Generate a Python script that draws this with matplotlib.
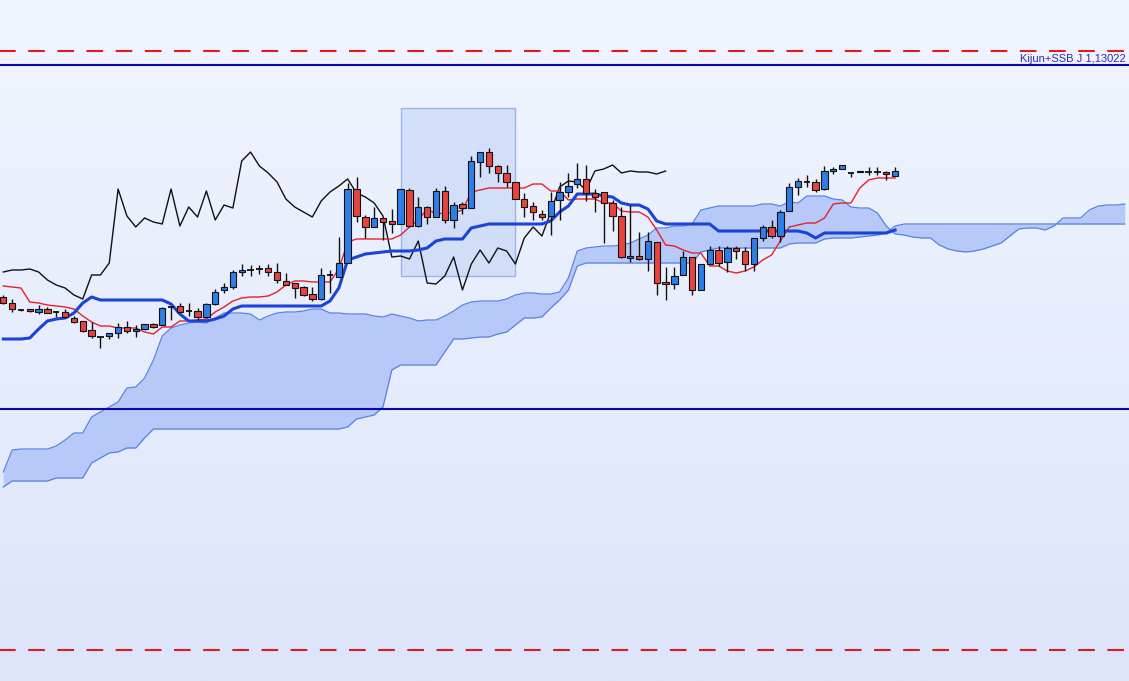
import numpy as np
import matplotlib
matplotlib.use("Agg")
import matplotlib.pyplot as plt
from matplotlib.patches import Rectangle
from matplotlib.transforms import blended_transform_factory

# ---- price data (one value per bar) ----
open_ = [1.11862, 1.11832, 1.11797, 1.11802, 1.11787, 1.11802, 1.11787, 1.11787, 1.11757, 1.11742,
         1.11697, 1.11662, 1.11667, 1.11682, 1.11712, 1.11692, 1.11702, 1.11727, 1.11722, 1.11812,
         1.11817, 1.11792, 1.11792, 1.11762, 1.11827, 1.11897, 1.11912, 1.11987, 1.11997, 1.12002,
         1.12007, 1.11987, 1.11942, 1.11932, 1.11912, 1.11877, 1.11852, 1.11972, 1.11962, 1.12032,
         1.12402, 1.12262, 1.12212, 1.12257, 1.12242, 1.12227, 1.12397, 1.12217, 1.12312, 1.12262,
         1.12392, 1.12247, 1.12327, 1.12307, 1.12537, 1.12587, 1.12517, 1.12482, 1.12437, 1.12352,
         1.12317, 1.12277, 1.12267, 1.12347, 1.12387, 1.12427, 1.12452, 1.12382, 1.12387, 1.12332,
         1.12267, 1.12057, 1.12067, 1.12052, 1.12137, 1.11937, 1.11927, 1.11972, 1.12062, 1.11897,
         1.12027, 1.12097, 1.12037, 1.12107, 1.12092, 1.12027, 1.12157, 1.12212, 1.12167, 1.12292,
         1.12412, 1.12437, 1.12437, 1.12402, 1.12492, 1.12502, 1.12482, 1.12487, 1.12487, 1.12487,
         1.12487, 1.12467]
high = [1.11872, 1.11852, 1.11802, 1.11802, 1.11822, 1.11812, 1.11792, 1.11802, 1.11767, 1.11742,
        1.11737, 1.11667, 1.11682, 1.11732, 1.11742, 1.11722, 1.11727, 1.11732, 1.11812, 1.11812,
        1.11832, 1.11832, 1.11807, 1.11832, 1.11902, 1.11932, 1.11997, 1.12027, 1.12022, 1.12022,
        1.12027, 1.12032, 1.11982, 1.11932, 1.11917, 1.11912, 1.12007, 1.11997, 1.12162, 1.12432,
        1.12462, 1.12272, 1.12312, 1.12257, 1.12302, 1.12402, 1.12407, 1.12362, 1.12317, 1.12407,
        1.12417, 1.12337, 1.12337, 1.12567, 1.12587, 1.12607, 1.12522, 1.12522, 1.12437, 1.12382,
        1.12337, 1.12297, 1.12387, 1.12437, 1.12482, 1.12532, 1.12522, 1.12402, 1.12387, 1.12347,
        1.12312, 1.12322, 1.12187, 1.12187, 1.12137, 1.12012, 1.12012, 1.12092, 1.12062, 1.12027,
        1.12117, 1.12117, 1.12117, 1.12117, 1.12112, 1.12157, 1.12222, 1.12247, 1.12297, 1.12432,
        1.12457, 1.12472, 1.12452, 1.12517, 1.12512, 1.12522, 1.12482, 1.12492, 1.12512, 1.12512,
        1.12492, 1.12512]
low = [1.11827, 1.11787, 1.11792, 1.11787, 1.11777, 1.11782, 1.11762, 1.11757, 1.11732, 1.11687,
       1.11657, 1.11607, 1.11652, 1.11657, 1.11682, 1.11662, 1.11697, 1.11707, 1.11722, 1.11747,
       1.11782, 1.11767, 1.11747, 1.11757, 1.11822, 1.11882, 1.11902, 1.11967, 1.11967, 1.11977,
       1.11967, 1.11932, 1.11922, 1.11857, 1.11867, 1.11842, 1.11847, 1.11882, 1.11962, 1.12032,
       1.12237, 1.12157, 1.12212, 1.12147, 1.12182, 1.12227, 1.12212, 1.12212, 1.12227, 1.12262,
       1.12232, 1.12207, 1.12277, 1.12307, 1.12462, 1.12482, 1.12437, 1.12412, 1.12352, 1.12262,
       1.12247, 1.12247, 1.12172, 1.12247, 1.12362, 1.12407, 1.12342, 1.12287, 1.12132, 1.12192,
       1.12057, 1.12037, 1.12047, 1.11992, 1.11872, 1.11847, 1.11902, 1.11972, 1.11872, 1.11897,
       1.12027, 1.12017, 1.11987, 1.12052, 1.11992, 1.11992, 1.12142, 1.12157, 1.12137, 1.12292,
       1.12372, 1.12412, 1.12387, 1.12397, 1.12477, 1.12502, 1.12462, 1.12487, 1.12472, 1.12472,
       1.12447, 1.12467]
close = [1.11832, 1.11802, 1.11797, 1.11792, 1.11802, 1.11782, 1.11787, 1.11762, 1.11737, 1.11692,
         1.11667, 1.11662, 1.11682, 1.11712, 1.11692, 1.11702, 1.11727, 1.11712, 1.11807, 1.11812,
         1.11787, 1.11792, 1.11762, 1.11827, 1.11887, 1.11912, 1.11987, 1.11997, 1.11997, 1.12002,
         1.11987, 1.11947, 1.11922, 1.11907, 1.11872, 1.11852, 1.11972, 1.11972, 1.12032, 1.12402,
         1.12267, 1.12212, 1.12257, 1.12237, 1.12227, 1.12402, 1.12217, 1.12312, 1.12262, 1.12392,
         1.12247, 1.12322, 1.12307, 1.12542, 1.12587, 1.12517, 1.12482, 1.12437, 1.12352, 1.12312,
         1.12287, 1.12262, 1.12342, 1.12387, 1.12417, 1.12452, 1.12382, 1.12362, 1.12332, 1.12267,
         1.12062, 1.12067, 1.12052, 1.12142, 1.11932, 1.11927, 1.11967, 1.12062, 1.11897, 1.12027,
         1.12097, 1.12032, 1.12107, 1.12092, 1.12027, 1.12157, 1.12212, 1.12167, 1.12287, 1.12412,
         1.12442, 1.12437, 1.12397, 1.12492, 1.12502, 1.12522, 1.12482, 1.12492, 1.12487, 1.12487,
         1.12477, 1.12492]

# ---- Ichimoku lines ----
tenkan = [1.11917, 1.11912, 1.11907, 1.11837, 1.11832, 1.11822, 1.11817, 1.11812, 1.11802, 1.11767,
          1.11737, 1.11717, 1.11717, 1.11707, 1.11707, 1.11707, 1.11687, 1.11677, 1.11712, 1.11712,
          1.11742, 1.11742, 1.11747, 1.11752, 1.11787, 1.11812, 1.11842, 1.11857, 1.11862, 1.11862,
          1.11867, 1.11887, 1.11922, 1.11942, 1.11942, 1.11937, 1.11937, 1.11937, 1.12002, 1.12137,
          1.12152, 1.12152, 1.12152, 1.12152, 1.12152, 1.12172, 1.12212, 1.12247, 1.12302, 1.12277,
          1.12282, 1.12282, 1.12297, 1.12387, 1.12397, 1.12407, 1.12407, 1.12407, 1.12407, 1.12407,
          1.12427, 1.12427, 1.12392, 1.12392, 1.12347, 1.12352, 1.12352, 1.12352, 1.12332, 1.12332,
          1.12292, 1.12287, 1.12287, 1.12262, 1.12197, 1.12122, 1.12117, 1.12097, 1.12082, 1.12082,
          1.12017, 1.12017, 1.11992, 1.11982, 1.11992, 1.12012, 1.12047, 1.12072, 1.12142, 1.12212,
          1.12222, 1.12232, 1.12232, 1.12257, 1.12327, 1.12332, 1.12332, 1.12407, 1.12447, 1.12457,
          1.12457, 1.12457]
kijun = ([1.11652, 1.11652, 1.11652, 1.11657, 1.11702, 1.11742, 1.11752, 1.11757, 1.11782, 1.11832,
          1.11862] + [1.11847] * 8 +
         [1.11827, 1.11777, 1.11742, 1.11742, 1.11742, 1.11752, 1.11767, 1.11802] + [1.11817] * 10 +
         [1.11842, 1.11907, 1.12047, 1.12062, 1.12077, 1.12082, 1.12087, 1.12092, 1.12092, 1.12092,
          1.12097, 1.12107, 1.12142] + [1.12152] * 3 + [1.12207, 1.12217] + [1.12227] * 7 +
         [1.12242, 1.12287, 1.12317] + [1.12377] * 3 + [1.12367, 1.12362, 1.12332, 1.12322, 1.12322,
          1.12302, 1.12242] + [1.12227] * 6 + [1.12192] * 10 + [1.12182, 1.12157] + [1.12182] * 8 +
         [1.12197])

# Senkou spans, plotted 26 bars ahead of the price bars
senkou_a = ([1.10987, 1.11097, 1.11102, 1.11102, 1.11102, 1.11102, 1.11117, 1.11147, 1.11182, 1.11182,
             1.11262, 1.11287, 1.11312, 1.11337, 1.11407, 1.11412, 1.11457, 1.11547, 1.11667, 1.11707,
             1.11722, 1.11732, 1.11737, 1.11732, 1.11757, 1.11782, 1.11782, 1.11782, 1.11777, 1.11747,
             1.11767, 1.11782, 1.11787, 1.11787, 1.11792, 1.11802, 1.11802, 1.11782, 1.11782, 1.11777,
             1.11777, 1.11777, 1.11767, 1.11762, 1.11777, 1.11767, 1.11757, 1.11742, 1.11747, 1.11747,
             1.11767, 1.11792, 1.11822, 1.11837, 1.11842, 1.11842, 1.11842, 1.11852, 1.11872, 1.11882,
             1.11882, 1.11877, 1.11877, 1.11887, 1.11957, 1.12092, 1.12107, 1.12112, 1.12117, 1.12117,
             1.12122, 1.12132, 1.12152, 1.12172, 1.12207, 1.12207, 1.12217, 1.12217, 1.12227, 1.12297,
             1.12307] + [1.12317] * 5 + [1.12327, 1.12327, 1.12317, 1.12337, 1.12332] +
            [1.12367] * 3 + [1.12352, 1.12347, 1.12312, 1.12307, 1.12307, 1.12282, 1.12217, 1.12177,
             1.12172, 1.12162, 1.12157, 1.12157, 1.12122, 1.12102, 1.12092, 1.12087, 1.12092, 1.12102,
             1.12117, 1.12132, 1.12167, 1.12202, 1.12207, 1.12207, 1.12197, 1.12217, 1.12257, 1.12257,
             1.12257, 1.12297, 1.12317, 1.12322, 1.12322, 1.12327])
senkou_b = ([1.10912] + [1.10942] * 5 + [1.10957] * 4 +
            [1.11032, 1.11057, 1.11082, 1.11087, 1.11107, 1.11107, 1.11157] + [1.11202] * 22 +
            [1.11212, 1.11252, 1.11262, 1.11272, 1.11312, 1.11497] + [1.11522] * 5 +
            [1.11587, 1.11652, 1.11652, 1.11657, 1.11662, 1.11662, 1.11677, 1.11687, 1.11722, 1.11757,
             1.11757, 1.11762, 1.11807, 1.11847, 1.11897, 1.12017] + [1.12032] * 13 +
            [1.12087, 1.12097] + [1.12107] * 8 + [1.12127] + [1.12132] * 3 + [1.12152] +
            [1.12157] * 3 + [1.12162, 1.12167, 1.12172, 1.12182, 1.12217] + [1.12227] * 26)

# ---- horizontal levels and the marked zone ----
level_dashed = [1.13092, 1.10097]
level_solid = [1.13022, 1.11302]
level_label = "Kijun+SSB J 1,13022"
zone_bars = (45, 58)
zone_prices = (1.11967, 1.12807)

SHIFT = 26

open_ = np.array(open_); high = np.array(high); low = np.array(low); close = np.array(close)
n = len(close)
idx = np.arange(n)
cloud_idx = np.arange(len(senkou_a))

fig = plt.figure(figsize=(11.29, 6.81), dpi=100)
ax = fig.add_axes([0, 0, 1, 1])
ax.axis("off")

# soft vertical gradient background
top = np.array([0xf1, 0xf5, 0xfe]) / 255.0
bottom = np.array([0xdc, 0xe5, 0xfa]) / 255.0
t = np.linspace(0, 1, 256)[:, None, None]
grad = top + (bottom - top) * t
ax.imshow(grad, extent=[0, 1, 0, 1], transform=ax.transAxes, aspect="auto", zorder=0)

# marked zone
ax.add_patch(Rectangle((zone_bars[0], zone_prices[0]), zone_bars[1] - zone_bars[0],
                       zone_prices[1] - zone_prices[0], facecolor="#c9d8f7", alpha=0.7,
                       edgecolor="#7f9fe4", linewidth=1.0, zorder=1))

# Kumo cloud
ax.fill_between(cloud_idx, senkou_a, senkou_b, color="#b6c9f9", linewidth=0, zorder=2)
ax.plot(cloud_idx, senkou_a, color="#5a82e2", lw=0.9, zorder=2.5)
ax.plot(cloud_idx, senkou_b, color="#5a82e2", lw=0.9, zorder=2.5)

# horizontal levels
for y in level_solid:
    ax.axhline(y, color="#0a0aa0", lw=1.5, zorder=3)
for y in level_dashed:
    ax.plot([-1, 130], [y, y], color="#e3191c", lw=1.5, zorder=3,
            linestyle=(0, (8, 6)))

trans = blended_transform_factory(ax.transAxes, ax.transData)
ax.text(0.9975, level_solid[0] + 0.00015, level_label, transform=trans, ha="right",
        va="baseline", fontsize=8, color="#2a2ac4", family="Liberation Sans", zorder=7)

# Chikou span: closes drawn 26 bars back
ax.plot(idx[SHIFT:] - SHIFT, close[SHIFT:], color="#111111", lw=1.0, zorder=4)
# Tenkan and Kijun
ax.plot(idx, tenkan, color="#e8202a", lw=1.0, zorder=4)
ax.plot(idx, kijun, color="#1a44d8", lw=2.2, zorder=4.2, solid_joinstyle="round")

# candles
w = 0.72
ax.vlines(idx, low, high, color="#111111", lw=1.0, zorder=5)
bull = close > open_
bear = close < open_
doji = close == open_
ax.bar(idx[bull], (close - open_)[bull], bottom=open_[bull], width=w, color="#2f7ee8",
       edgecolor="#111111", linewidth=0.8, zorder=6)
ax.bar(idx[bear], (open_ - close)[bear], bottom=close[bear], width=w, color="#e8433f",
       edgecolor="#111111", linewidth=0.8, zorder=6)
ax.hlines(close[doji], idx[doji] - w / 2, idx[doji] + w / 2, color="#111111", lw=1.3, zorder=6)

ax.set_xlim(-0.374, 127.486)
ax.set_ylim(1.09942, 1.13347)

fig.savefig("out.png", dpi=100)
